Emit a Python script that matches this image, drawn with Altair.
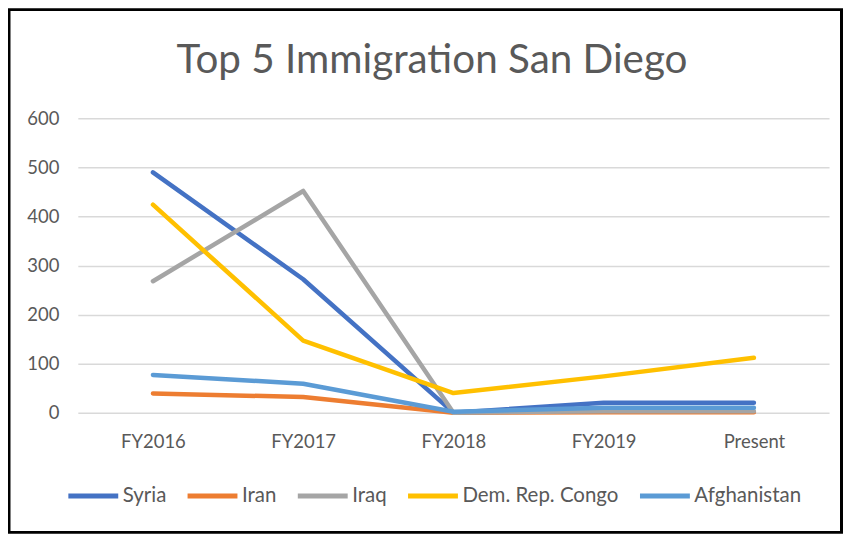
import altair as alt
import pandas as pd

categories = ["FY2016", "FY2017", "FY2018", "FY2019", "Present"]
series_names = ["Syria", "Iran", "Iraq", "Dem. Rep. Congo", "Afghanistan"]
syria = [490, 272, 0, 20, 20]
iran = [39, 32, 0, 1, 1]
iraq = [268, 452, 0, 3, 3]
congo = [424, 147, 40, 74, 112]
afghanistan = [77, 59, 2, 10, 10]
colors = ["#4472C4", "#ED7D31", "#A5A5A5", "#FFC000", "#5B9BD5"]
y_ticks = [0, 100, 200, 300, 400, 500, 600]
title_text = "Top 5 Immigration San Diego"

rows = []
for name, vals in zip(series_names, [syria, iran, iraq, congo, afghanistan]):
    for c, v in zip(categories, vals):
        rows.append({"year": c, "value": v, "country": name})
df = pd.DataFrame(rows)

W, H = 753, 295
FONT = "Lato"
TXT = "#595959"

lines = alt.Chart(df).mark_line(strokeWidth=4.5, strokeCap="round", strokeJoin="round").encode(
    x=alt.X("year:N", sort=categories, scale=alt.Scale(type="point", padding=0.5),
            axis=alt.Axis(title=None, labelAngle=0, domain=False, ticks=False, grid=False,
                          labelPadding=20, labelFontSize=18.5, labelColor=TXT, labelFont=FONT)),
    y=alt.Y("value:Q", scale=alt.Scale(domain=[0, 600]),
            axis=alt.Axis(title=None, values=y_ticks, domain=False, ticks=False, grid=True,
                          gridColor="#D9D9D9", gridWidth=1.5, labelPadding=19,
                          labelFontSize=18.5, labelColor=TXT, labelFont=FONT)),
    color=alt.Color("country:N", sort=series_names,
                    scale=alt.Scale(domain=series_names, range=colors),
                    legend=alt.Legend(title=None, orient="none", legendX=-12, legendY=351,
                                      direction="horizontal", symbolType="stroke",
                                      symbolSize=2500, symbolStrokeWidth=5,
                                      labelFontSize=20.5, labelColor=TXT, labelFont=FONT,
                                      columnPadding=10.5, labelOffset=2)),
)

frame = alt.Chart(pd.DataFrame({"k": [0]})).mark_rect(
    fillOpacity=0, stroke="black", strokeWidth=3
).encode(
    x=alt.value(-69), x2=alt.value(W + 12.5), y=alt.value(-109), y2=alt.value(H + 120)
)

title = alt.Chart(pd.DataFrame({"t": [title_text]})).mark_text(
    font=FONT, fontSize=40.5, color=TXT, align="center", baseline="alphabetic"
).encode(
    text="t:N", x=alt.value(355), y=alt.value(-45)
)

chart = alt.layer(frame, title, lines).properties(
    width=W, height=H,
    padding={"left": 70, "top": 110, "right": 14, "bottom": 122},
    autosize=alt.AutoSizeParams(type="none"),
).configure_view(stroke=None)

chart.save("out.html", embed_options={"renderer": "svg", "actions": False})
